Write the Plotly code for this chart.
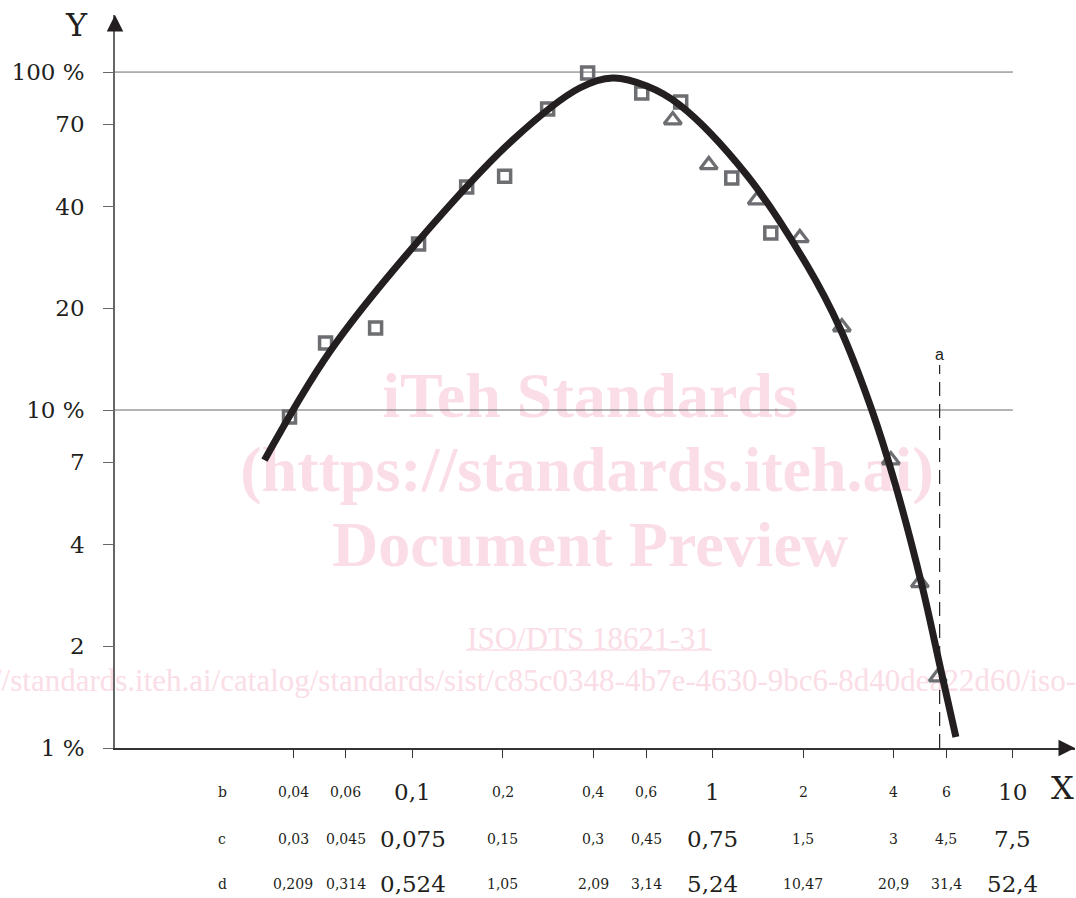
import numpy as np
import plotly.graph_objects as go

# ---------------- data ----------------
sq_x = [0.0389, 0.0513, 0.0753, 0.1047, 0.1514, 0.2026, 0.2818, 0.383, 0.580, 0.782, 1.157, 1.561]
sq_y = [9.54, 15.8, 17.5, 31.0, 45.7, 49.2, 77.7, 99.3, 86.7, 81.5, 48.6, 33.4]

tri_x = [0.736, 0.970, 1.402, 1.950, 2.692, 3.92, 4.898, 5.62]
tri_y = [72.1, 53.1, 41.8, 32.3, 17.6, 7.11, 3.08, 1.62]

curve_x = [0.0321, 0.0529, 0.1031, 0.2154, 0.3602, 0.4642, 0.6026, 0.7762,
           1.298, 2.058, 2.651, 3.388, 4.044, 4.973, 5.754, 6.457]
curve_y = [7.11, 14.85, 31.2, 62.9, 89.7, 96.0, 90.9, 79.9,
           49.6, 26.85, 17.48, 10.0, 6.08, 3.035, 1.70, 1.078]

limit_x = [5.7, 5.7]
limit_y = [1.0, 13.6]
limit_label = "a"

grid_y = [10, 100]
grid_x = [0.0102, 10]

y_tickvals = [1, 2, 4, 7, 10, 20, 40, 70, 100]
y_ticktext = ["1 %", "2", "4", "7", "10 %", "20", "40", "70", "100 %"]

x_tickvals = [0.04, 0.06, 0.1, 0.2, 0.4, 0.6, 1, 2, 4, 6, 10]
row_names = ["b", "c", "d"]
row_b = ["0,04", "0,06", "0,1", "0,2", "0,4", "0,6", "1", "2", "4", "6", "10"]
row_c = ["0,03", "0,045", "0,075", "0,15", "0,3", "0,45", "0,75", "1,5", "3", "4,5", "7,5"]
row_d = ["0,209", "0,314", "0,524", "1,05", "2,09", "3,14", "5,24", "10,47", "20,9", "31,4", "52,4"]
big_label = [False, False, True, False, False, False, True, False, False, False, True]

x_range = [0.0102, 16.1]
y_range = [1.0, 147.5]

# ---------------- styling ----------------
SERIF = "DejaVu Serif"
INK = "#231f20"
MARK = "#6d6e71"
GRID = "#6a6a6a"
PINK = "#fadde6"

fig = go.Figure()

# reference lines at 10 % and 100 %
for gy in grid_y:
    fig.add_trace(go.Scatter(x=grid_x, y=[gy, gy], mode="lines",
                             line=dict(color=GRID, width=1), hoverinfo="skip", showlegend=False))

# dashed limit line
fig.add_trace(go.Scatter(x=limit_x, y=limit_y, mode="lines",
                         line=dict(color=INK, width=1.2, dash="14px,8px"),
                         hoverinfo="skip", showlegend=False))

fig.add_trace(go.Scatter(x=sq_x, y=sq_y, mode="markers",
                         marker=dict(symbol="square-open", size=12, color=MARK, line=dict(width=3.5, color=MARK)),
                         showlegend=False))
fig.add_trace(go.Scatter(x=tri_x, y=tri_y, mode="markers",
                         marker=dict(symbol="triangle-up-open", size=15, color=MARK, line=dict(width=3.2, color=MARK)),
                         showlegend=False))
fig.add_trace(go.Scatter(x=curve_x, y=curve_y, mode="lines",
                         line=dict(color=INK, width=7, shape="spline", smoothing=1.0),
                         showlegend=False))

annotations = []
rows = [row_b, row_c, row_d]
row_shift = [-44, -91, -136]
for r, labels in enumerate(rows):
    annotations.append(dict(xref="paper", yref="paper", x=(222 - 115) / 960, y=0,
                            yshift=row_shift[r], text=row_names[r], showarrow=False,
                            xanchor="center", yanchor="middle",
                            font=dict(family=SERIF, size=14, color=INK)))
    for v, t, b in zip(x_tickvals, labels, big_label):
        annotations.append(dict(xref="x", yref="paper", x=np.log10(v), y=0,
                                yshift=row_shift[r], text=t, showarrow=False,
                                xanchor="center", yanchor="middle",
                                font=dict(family=SERIF, size=23 if b else 14, color=INK)))

# axis titles
annotations.append(dict(xref="paper", yref="paper", x=(1062 - 115) / 960, y=(748 - 788) / 733,
                        text="X", showarrow=False, xanchor="center", yanchor="middle",
                        font=dict(family=SERIF, size=32, color=INK)))
annotations.append(dict(xref="paper", yref="paper", x=(76 - 115) / 960, y=(748 - 25) / 733,
                        text="Y", showarrow=False, xanchor="center", yanchor="middle",
                        font=dict(family=SERIF, size=32, color=INK)))
# limit label
annotations.append(dict(xref="x", yref="y", x=np.log10(limit_x[1]), y=np.log10(limit_y[1]),
                        text=limit_label, showarrow=False, xanchor="center", yanchor="bottom",
                        font=dict(family="Liberation Sans", size=16, color=INK)))
# axis arrow heads
annotations.append(dict(xref="paper", yref="paper", x=0, y=1, ax=0, ay=14, text="",
                        showarrow=True, arrowhead=2, arrowsize=2.2, arrowwidth=1.5, arrowcolor=INK))
annotations.append(dict(xref="paper", yref="paper", x=1, y=0, ax=-14, ay=0, text="",
                        showarrow=True, arrowhead=2, arrowsize=2.2, arrowwidth=1.5, arrowcolor=INK))

# watermark (drawn below the data)
def wm(text, cx, cy, size, anchor="middle center", x0=None, x1=None):
    xp = (cx - 115) / 960
    yp = (748 - cy) / 733
    if x0 is None:
        x0, x1 = xp - 0.4, xp + 0.4
    return dict(type="rect", xref="paper", yref="paper", x0=x0, x1=x1, y0=yp - 0.02, y1=yp + 0.02,
                line=dict(width=0), fillcolor="rgba(0,0,0,0)", layer="below",
                label=dict(text=text, textposition=anchor, padding=0,
                           font=dict(family="Liberation Serif", size=size, color=PINK)))

shapes = [
    wm("<b>iTeh Standards</b>", 590, 388, 64),
    wm("<b>(https://standards.iteh.ai)</b>", 587, 462, 64),
    wm("<b>Document Preview</b>", 590, 537, 64),
    wm("ISO/DTS 18621-31", 589, 635, 31),
    wm("https://standards.iteh.ai/catalog/standards/sist/c85c0348-4b7e-4630-9bc6-8d40dea22d60/iso-",
       0, 677, 31, anchor="middle right", x0=-0.5, x1=(1079 - 115) / 960),
    dict(type="line", xref="paper", yref="paper", x0=(466 - 115) / 960, x1=(712 - 115) / 960,
         y0=(748 - 650) / 733, y1=(748 - 650) / 733, line=dict(color=PINK, width=1.5), layer="below"),
]

fig.update_layout(
    width=1076, height=898,
    margin=dict(l=115, r=1, t=15, b=150),
    paper_bgcolor="white", plot_bgcolor="white",
    showlegend=False,
    annotations=annotations,
    shapes=shapes,
    xaxis=dict(type="log", range=[np.log10(x_range[0]), np.log10(x_range[1])],
               showgrid=False, zeroline=False, showline=True, linecolor="#333333", linewidth=1.5,
               ticks="outside", ticklen=8, tickwidth=1.2, tickcolor="#333333",
               tickvals=x_tickvals, showticklabels=False),
    yaxis=dict(type="log", range=[np.log10(y_range[0]), np.log10(y_range[1])],
               showgrid=False, zeroline=False, showline=True, linecolor="#666666", linewidth=1.5,
               ticks="outside", ticklen=10, tickwidth=1.2, tickcolor="#666666",
               tickvals=y_tickvals, ticktext=y_ticktext, ticklabelstandoff=14,
               tickfont=dict(family=SERIF, size=23, color=INK)),
)

fig.write_html("out.html", config={"displayModeBar": False},
               post_script="document.body.style.margin='0px';document.body.style.overflow='hidden';")
